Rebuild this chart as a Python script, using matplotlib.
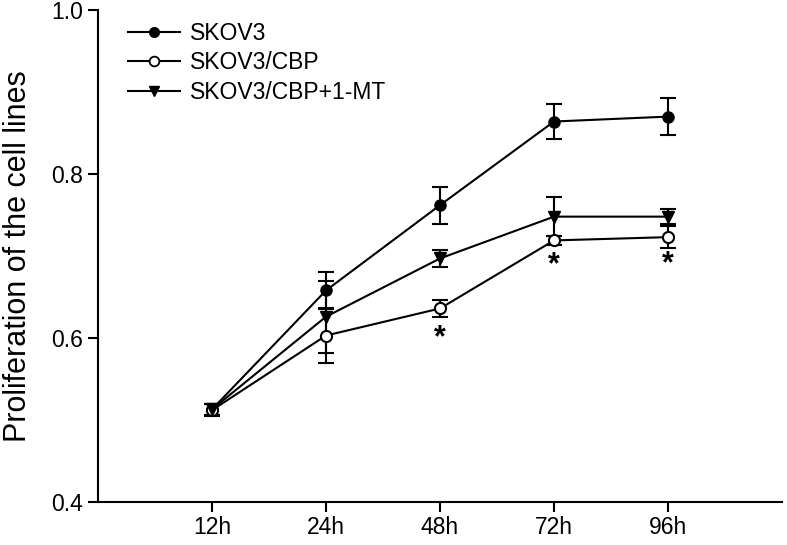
import matplotlib
matplotlib.use("Agg")
import matplotlib.pyplot as plt
from matplotlib.lines import Line2D

plt.rcParams['font.family'] = ['Liberation Sans', 'DejaVu Sans']

categories = ["12h", "24h", "48h", "72h", "96h"]
skov3 = [0.513, 0.658, 0.762, 0.864, 0.870]
skov3_err = [0.007, 0.0225, 0.0225, 0.021, 0.023]
cbp = [0.512, 0.603, 0.636, 0.719, 0.723]
cbp_err = [0.007, 0.033, 0.010, 0.006, 0.0135]
mt = [0.513, 0.626, 0.697, 0.748, 0.748]
mt_err = [0.007, 0.044, 0.010, 0.0235, 0.0095]
star_idx = [2, 3, 4]
star_y = [0.600, 0.689, 0.690]

W, H = 787, 545
fig = plt.figure(figsize=(W / 100, H / 100), dpi=100)
ax = fig.add_axes([98 / W, (H - 502) / H, (782 - 98) / W, (502 - 10) / H])

x = list(range(1, len(categories) + 1))
common = dict(color='black', lw=1.5, capsize=6, capthick=1.5, elinewidth=1.5, markersize=8)
ax.errorbar(x, skov3, yerr=skov3_err, marker='o', mfc='black', mec='black', **common)
ax.errorbar(x, cbp, yerr=cbp_err, marker='o', mfc='white', mec='black', mew=1.5, **common)
ax.errorbar(x, mt, yerr=mt_err, marker='v', mfc='black', mec='black', **common)

for i, yv in zip(star_idx, star_y):
    ax.text(x[i], yv, '*', ha='center', va='center', fontsize=22, fontweight='bold')

ax.set_xlim(0, 6)
ax.set_ylim(0.4, 1.0)
ax.set_xticks(x)
ax.set_xticklabels(categories)
ax.set_yticks([0.4, 0.6, 0.8, 1.0])
ax.set_yticklabels(['0.4', '0.6', '0.8', '1.0'])
ax.tick_params(axis='both', labelsize=16.5, width=1.5, length=7, direction='out')
ax.tick_params(axis='x', pad=3)
ax.tick_params(axis='y', pad=4)
for s in ['top', 'right']:
    ax.spines[s].set_visible(False)
for s in ['left', 'bottom']:
    ax.spines[s].set_linewidth(1.5)

ax.set_ylabel('Proliferation of the cell lines', fontsize=22)
ax.yaxis.set_label_coords(-0.0955, 0.5)

handles = [
    Line2D([], [], color='black', lw=1.5, marker='o', mfc='black', mec='black', markersize=7),
    Line2D([], [], color='black', lw=1.5, marker='o', mfc='white', mec='black', mew=1.3, markersize=7),
    Line2D([], [], color='black', lw=1.5, marker='v', mfc='black', mec='black', markersize=7),
]
labels = ['SKOV3', 'SKOV3/CBP', 'SKOV3/CBP+1-MT']
fig.legend(handles, labels, loc='upper left', bbox_to_anchor=(128 / W, 1 - 22 / H),
           bbox_transform=fig.transFigure, frameon=False, fontsize=16.5, borderpad=0,
           borderaxespad=0, handlelength=2.25, handletextpad=0.45, labelspacing=0.28)

fig.savefig('out.png', dpi=100)
